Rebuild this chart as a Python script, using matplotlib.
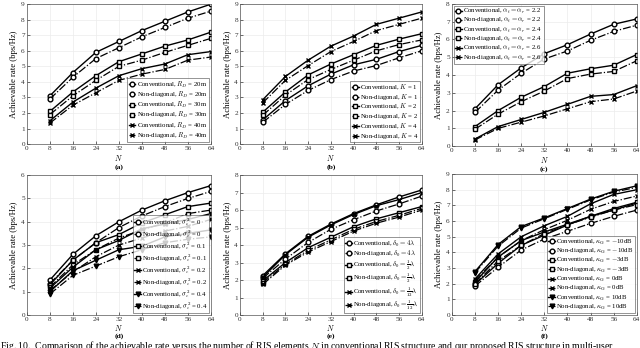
import matplotlib
matplotlib.use("Agg")
import matplotlib.pyplot as plt

plt.rcParams["font.family"] = ["Liberation Serif", "DejaVu Serif"]
plt.rcParams["mathtext.fontset"] = "cm"

N = [8, 16, 24, 32, 40, 48, 56, 64]

# (a) distance R_D
a_conv_20 = [3.1, 4.6, 5.9, 6.6, 7.3, 7.9, 8.5, 9.0]
a_non_20 = [2.9, 4.3, 5.5, 6.2, 6.9, 7.5, 8.1, 8.55]
a_conv_30 = [2.1, 3.35, 4.4, 5.3, 5.8, 6.3, 6.7, 7.2]
a_non_30 = [1.9, 3.1, 4.1, 5.0, 5.4, 5.9, 6.35, 6.8]
a_conv_40 = [1.5, 2.7, 3.6, 4.4, 4.85, 5.15, 5.75, 5.95]
a_non_40 = [1.35, 2.5, 3.3, 4.1, 4.5, 4.8, 5.4, 5.6]

# (b) users K
b_conv_1 = [1.55, 2.8, 3.75, 4.5, 5.1, 5.45, 5.95, 6.35]
b_non_1 = [1.4, 2.55, 3.45, 4.15, 4.7, 5.05, 5.55, 6.0]
b_conv_2 = [2.05, 3.35, 4.45, 5.15, 5.75, 6.35, 6.75, 7.1]
b_non_2 = [1.85, 3.15, 4.15, 4.8, 5.4, 6.0, 6.4, 6.7]
b_conv_4 = [2.85, 4.35, 5.4, 6.3, 6.95, 7.7, 8.1, 8.5]
b_non_4 = [2.65, 4.1, 5.05, 5.95, 6.6, 7.3, 7.7, 8.1]

# (c) path-loss exponent
c_conv_22 = [2.1, 3.45, 4.4, 5.2, 5.7, 6.3, 6.85, 7.15]
c_non_22 = [1.9, 3.15, 4.1, 4.9, 5.35, 5.95, 6.45, 6.8]
c_conv_24 = [1.1, 2.0, 2.75, 3.35, 4.1, 4.35, 4.55, 5.15]
c_non_24 = [0.95, 1.8, 2.5, 3.1, 3.8, 4.05, 4.2, 4.8]
c_conv_26 = [0.4, 1.1, 1.5, 1.9, 2.35, 2.8, 2.9, 3.4]
c_non_26 = [0.35, 1.0, 1.35, 1.7, 2.1, 2.5, 2.65, 3.1]

# (d) channel error variance
d_conv_0 = [1.5, 2.6, 3.4, 4.0, 4.5, 4.9, 5.25, 5.55]
d_non_0 = [1.35, 2.35, 3.1, 3.75, 4.25, 4.65, 5.0, 5.3]
d_conv_01 = [1.3, 2.35, 3.1, 3.45, 3.95, 4.3, 4.65, 4.8]
d_non_01 = [1.2, 2.15, 2.8, 3.3, 3.65, 3.95, 4.35, 4.5]
d_conv_02 = [1.15, 2.05, 2.8, 3.2, 3.7, 3.9, 4.1, 4.35]
d_non_02 = [1.05, 1.85, 2.5, 3.0, 3.3, 3.6, 3.8, 4.1]
d_conv_04 = [1.0, 1.9, 2.35, 2.8, 2.95, 3.35, 3.5, 3.65]
d_non_04 = [0.9, 1.7, 2.1, 2.5, 2.8, 3.1, 3.25, 3.35]

# (e) element spacing
e_conv_4 = [2.25, 3.5, 4.5, 5.2, 5.8, 6.3, 6.75, 7.15]
e_non_4 = [2.1, 3.2, 4.15, 4.9, 5.45, 5.95, 6.35, 6.8]
e_conv_h = [1.95, 3.0, 3.85, 4.45, 5.05, 5.5, 5.85, 6.2]
e_non_h = [1.85, 2.9, 3.7, 4.3, 4.9, 5.35, 5.7, 6.1]
e_conv_12 = [2.15, 3.45, 4.45, 5.15, 5.75, 6.25, 6.6, 7.0]
e_non_12 = [1.75, 2.85, 3.6, 4.2, 4.8, 5.25, 5.6, 6.0]

# (f) Rician factor
f_conv_m10 = [1.95, 3.3, 4.45, 5.1, 5.75, 6.3, 6.7, 7.15]
f_non_m10 = [1.85, 3.05, 4.15, 4.85, 5.35, 5.85, 6.3, 6.7]
f_conv_m3 = [2.1, 3.7, 4.75, 5.3, 5.8, 6.3, 6.8, 7.2]
f_non_m3 = [2.0, 3.45, 4.45, 5.2, 5.75, 6.25, 6.7, 7.05]
f_conv_0 = [2.3, 3.9, 5.0, 5.7, 6.3, 7.1, 7.7, 8.0]
f_non_0 = [2.2, 3.7, 4.75, 5.45, 6.05, 6.75, 7.25, 7.6]
f_conv_10 = [2.77, 4.5, 5.65, 6.2, 6.8, 7.4, 7.9, 8.25]
f_non_10 = [2.7, 4.4, 5.55, 6.15, 6.75, 7.35, 7.85, 8.15]

panels = [
    ("(a)", 9, "lower right", [
        (a_conv_20, a_non_20, r"$R_D$ = 20m"),
        (a_conv_30, a_non_30, r"$R_D$ = 30m"),
        (a_conv_40, a_non_40, r"$R_D$ = 40m")]),
    ("(b)", 9, "lower right", [
        (b_conv_1, b_non_1, r"$K$ = 1"),
        (b_conv_2, b_non_2, r"$K$ = 2"),
        (b_conv_4, b_non_4, r"$K$ = 4")]),
    ("(c)", 8, "upper left", [
        (c_conv_22, c_non_22, r"$\alpha_t = \alpha_r$ = 2.2"),
        (c_conv_24, c_non_24, r"$\alpha_t = \alpha_r$ = 2.4"),
        (c_conv_26, c_non_26, r"$\alpha_t = \alpha_r$ = 2.6")]),
    ("(d)", 6, "lower right", [
        (d_conv_0, d_non_0, r"$\sigma_e^2$ = 0"),
        (d_conv_01, d_non_01, r"$\sigma_e^2$ = 0.1"),
        (d_conv_02, d_non_02, r"$\sigma_e^2$ = 0.2"),
        (d_conv_04, d_non_04, r"$\sigma_e^2$ = 0.4")]),
    ("(e)", 8, "lower right", [
        (e_conv_4, e_non_4, r"$\delta_0 = 4\lambda$"),
        (e_conv_h, e_non_h, r"$\delta_0 = \frac{1}{2}\lambda$"),
        (e_conv_12, e_non_12, r"$\delta_0 = \frac{1}{12}\lambda$")]),
    ("(f)", 9, "lower right", [
        (f_conv_m10, f_non_m10, r"$\kappa_{\rm G}$ = $-$10dB"),
        (f_conv_m3, f_non_m3, r"$\kappa_{\rm G}$ = $-$3dB"),
        (f_conv_0, f_non_0, r"$\kappa_{\rm G}$ = 0dB"),
        (f_conv_10, f_non_10, r"$\kappa_{\rm G}$ = 10dB")]),
]

markers = ["o", "s", "x", "v"]
positions = [
    [0.042, 0.586, 0.2875, 0.402],
    [0.375, 0.586, 0.284, 0.402],
    [0.706, 0.580, 0.289, 0.409],
    [0.042, 0.0948, 0.2875, 0.402],
    [0.375, 0.0948, 0.284, 0.402],
    [0.706, 0.0948, 0.289, 0.405],
]
# pixel offsets below the x axis for the N label (top) and panel tag (centre)
label_px = [(9, 23), (9, 23), (9, 23), (8, 21.5), (8, 21.5), (8, 21.5)]

fig = plt.figure(figsize=(6.4, 3.48), dpi=100)

for (tag, ymax, loc, series), pos, (npx, tpx) in zip(panels, positions, label_px):
    ax = fig.add_axes(pos)
    h_px = pos[3] * 348
    for i, (conv, non, lab) in enumerate(series):
        m = markers[i]
        face = "black" if m == "v" else "white"
        ax.plot(N, conv, color="black", lw=1.0, ls="-", marker=m, ms=3.4,
                mfc=face, mec="black", mew=1.0, label="Conventional, " + lab)
        ax.plot(N, non, color="black", lw=0.9, ls="-.", marker=m, ms=3.4,
                mfc=face, mec="black", mew=1.0, label="Non-diagonal, " + lab)
    ax.set_xlim(0, 64)
    ax.set_ylim(0, ymax)
    ax.set_xticks(range(0, 65, 8))
    ax.set_yticks(range(0, ymax + 1))
    ax.grid(True, color="#ececec", lw=0.5)
    ax.set_axisbelow(True)
    for s in ax.spines.values():
        s.set_color("#555555")
        s.set_linewidth(0.5)
    ax.tick_params(direction="in", length=2, width=0.5, labelsize=5.2,
                   colors="#333333", pad=1.5)
    ax.set_ylabel("Achievable rate (bps/Hz)", fontsize=6.2, labelpad=2)
    ax.set_xlabel(r"$N$", fontsize=5.6)
    ax.xaxis.set_label_coords(0.5, -npx / h_px)
    leg = ax.legend(loc=loc, fontsize=4.9, frameon=True, fancybox=False,
                    handlelength=1.0, handletextpad=0.2, labelspacing=0.02,
                    borderpad=0.2, borderaxespad=0.25)
    leg.get_frame().set_edgecolor("#444444")
    leg.get_frame().set_linewidth(0.5)
    ax.text(0.5, -tpx / h_px, tag, transform=ax.transAxes, ha="center",
            va="center", fontsize=5.4, fontweight="bold")

fig.text(0.0, 0.006,
         r"Fig. 10.  Comparison of the achievable rate versus the number of RIS elements $N$ in "
         "conventional RIS structure and our proposed RIS structure in multi-user",
         ha="left", va="center", fontsize=7.0)

fig.savefig("out.png", dpi=100)
